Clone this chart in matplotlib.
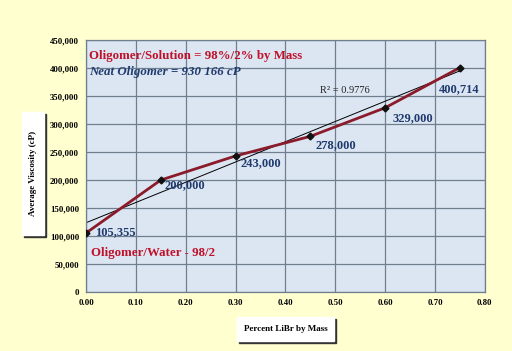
import matplotlib.pyplot as plt
import numpy as np
from matplotlib.ticker import FuncFormatter
from matplotlib.patches import Rectangle

# data
pct_libr = [0.00, 0.15, 0.30, 0.45, 0.60, 0.75]
viscosity = [105355, 200000, 243000, 278000, 329000, 400714]
point_labels = ['105,355', '200,000', '243,000', '278,000', '329,000', '400,714']
label_offsets = [(9, 1), (4, -5), (5, -7), (5, -9), (7, -10), (-21, -22)]

serif = 'Liberation Serif'
navy = '#1F3A6E'
red = '#C0102A'

fig = plt.figure(figsize=(5.12, 3.51), dpi=100)
fig.patch.set_facecolor('#FFFFD0')
ax = fig.add_axes([0.168, 0.168, 0.779, 0.718])
ax.set_facecolor('#DCE6F2')

ax.plot(pct_libr, viscosity, color='#8B1A2A', lw=2.0, zorder=3)
ax.plot(pct_libr, viscosity, ls='none', marker='D', ms=3.5, color='#111111', zorder=4)

# linear trendline
coef = np.polyfit(pct_libr, viscosity, 1)
xs = np.array([0.0, 0.75])
ax.plot(xs, np.polyval(coef, xs), color='black', lw=0.7, zorder=2)

for x, y, lab, off in zip(pct_libr, viscosity, point_labels, label_offsets):
    ax.annotate(lab, xy=(x, y), xytext=off, textcoords='offset pixels',
                ha='left', va='center', fontsize=9, fontweight='bold',
                color=navy, family=serif)

ax.text(0.47, 355000, 'R² = 0.9776', fontsize=7.5, family=serif, color='#222222')

ax.text(0.008, 0.935, 'Oligomer/Solution = 98%/2% by Mass', transform=ax.transAxes,
        fontsize=9.3, fontweight='bold', color=red, family=serif, va='center')
ax.text(0.008, 0.875, 'Neat Oligomer = 930 166 cP', transform=ax.transAxes,
        fontsize=9.3, fontweight='bold', style='italic', color=navy, family=serif, va='center')
ax.text(0.013, 0.155, 'Oligomer/Water - 98/2', transform=ax.transAxes,
        fontsize=9.3, fontweight='bold', color=red, family=serif, va='center')

ax.set_xlim(0, 0.8)
ax.set_ylim(0, 450000)
ax.set_xticks(np.arange(0, 0.81, 0.1))
ax.set_yticks(np.arange(0, 450001, 50000))
ax.xaxis.set_major_formatter(FuncFormatter(lambda v, p: f'{v:.2f}'))
ax.yaxis.set_major_formatter(FuncFormatter(lambda v, p: f'{v:,.0f}'))
ax.grid(True, color='#6F7F8F', lw=0.9)
ax.set_axisbelow(True)
ax.tick_params(length=0, labelsize=6.3, pad=5)
for lab in ax.get_xticklabels() + ax.get_yticklabels():
    lab.set_family(serif)
    lab.set_fontweight('bold')
for s in ax.spines.values():
    s.set_color('#6F7F8F')
    s.set_linewidth(0.9)

# axis titles in white boxes with shadow
def boxed(x0, y0, w, h, text, rot):
    fig.patches.append(Rectangle((x0 + 0.004, y0 - 0.006), w, h, transform=fig.transFigure,
                                 color='#333333', zorder=1))
    fig.patches.append(Rectangle((x0, y0), w, h, transform=fig.transFigure,
                                 color='white', zorder=2))
    fig.text(x0 + w / 2, y0 + h / 2, text, rotation=rot, ha='center', va='center',
             fontsize=6.5, fontweight='bold', family=serif, zorder=3)

boxed(0.043, 0.33, 0.043, 0.35, 'Average Viscosity (cP)', 90)
boxed(0.463, 0.028, 0.19, 0.068, 'Percent LiBr by Mass', 0)

plt.savefig('out.png', dpi=100, facecolor=fig.get_facecolor())
